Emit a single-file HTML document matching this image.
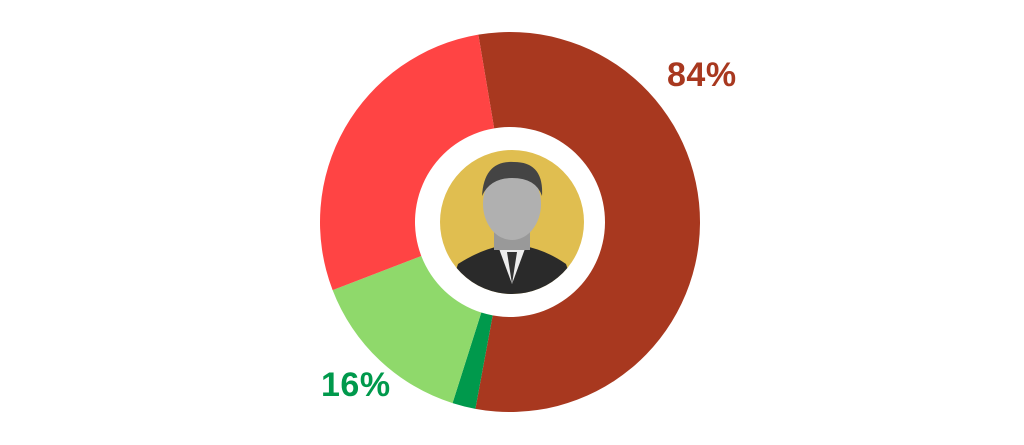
<!DOCTYPE html>
<html><head><meta charset="utf-8"><style>
html,body{margin:0;padding:0;background:#fff;}
body{width:1024px;height:445px;overflow:hidden;position:relative;font-family:"Liberation Sans",sans-serif;}
.t{position:absolute;font-weight:bold;font-size:34px;letter-spacing:0.5px;}
</style></head><body>
<svg width="1024" height="445" style="position:absolute;left:0;top:0">
<g transform="translate(510,222)"></g>
</svg>
<script>
function pt(r,a){a=a*Math.PI/180;return [r*Math.sin(a),-r*Math.cos(a)];}
function arc(R,r,a0,a1){var p0=pt(R,a0),p1=pt(R,a1),q1=pt(r,a1),q0=pt(r,a0),l=(a1-a0)>180?1:0;
return "M"+p0+" A"+R+","+R+" 0 "+l+" 1 "+p1+" L"+q1+" A"+r+","+r+" 0 "+l+" 0 "+q0+"Z";}
var segs=[[-9.6,190.5,"#A8381F"],[190.5,197.6,"#00994C"],[197.6,249,"#8FD96B"],[249,350.4,"#FF4444"]];
var g=document.querySelector("g");
segs.forEach(function(s){var p=document.createElementNS("http://www.w3.org/2000/svg","path");p.setAttribute("d",arc(190,95,s[0],s[1]));p.setAttribute("fill",s[2]);g.appendChild(p);});
g.insertAdjacentHTML("beforeend",'<circle cx="2" cy="0" r="72" fill="#E0BE50"/>'+
'<clipPath id="c"><circle cx="2" cy="0" r="72"/></clipPath><g clip-path="url(#c)">'+
'<path d="M-62,72 L-52,42 Q-30,28 -10,24 L14,24 Q36,28 56,42 L66,72Z" fill="#2a2a2a"/>'+
'<path d="M-12,24 L2,62 L16,24Z" fill="#eee"/><path d="M-3,30 L2,62 L7,30Z" fill="#333"/>'+
'<rect x="-16" y="4" width="36" height="24" fill="#999"/>'+
'<ellipse cx="2" cy="-18" rx="29" ry="36" fill="#b0b0b0"/>'+
'<path d="M-28,-26 Q-26,-62 4,-60 Q34,-60 32,-26 Q26,-44 2,-44 Q-20,-44 -28,-26Z" fill="#444"/>'+
'</g>');
</script>
<div class="t" style="left:667px;top:56px;color:#A8381F">84%</div>
<div class="t" style="left:321px;top:366px;color:#00994C">16%</div>
</body></html>
